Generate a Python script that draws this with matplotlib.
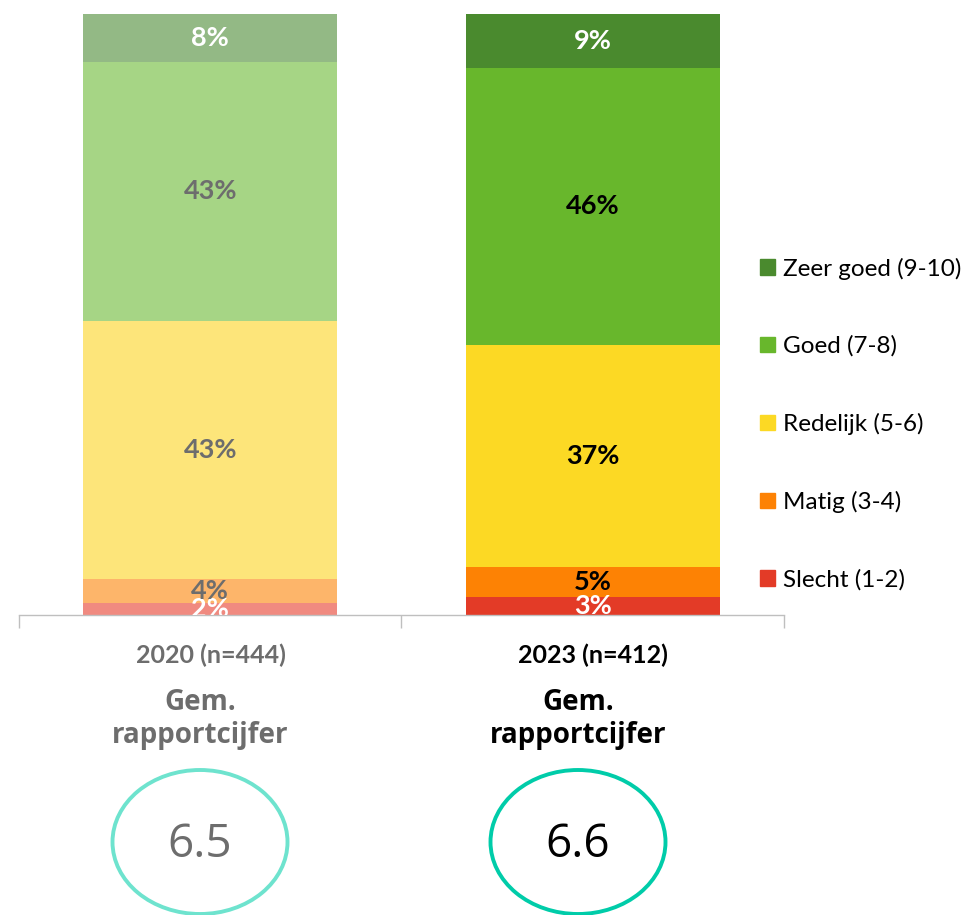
import matplotlib
matplotlib.use("Agg")
import matplotlib.pyplot as plt
from matplotlib.patches import Ellipse, Rectangle

# ---- data ----
years = ["2020 (n=444)", "2023 (n=412)"]
categories = ["Slecht (1-2)", "Matig (3-4)", "Redelijk (5-6)", "Goed (7-8)", "Zeer goed (9-10)"]
values_2020 = [2, 4, 43, 43, 8]
values_2023 = [3, 5, 37, 46, 9]
gem_cijfer = ["6.5", "6.6"]
gem_label = "Gem.\nrapportcijfer"

colors_2020 = ["#F08A80", "#FDB56A", "#FDE57A", "#A6D585", "#93B985"]
colors_2023 = ["#E33B27", "#FD8204", "#FCD924", "#68B72C", "#4A8A2E"]
text_2020 = ["white", "#6D6D6D", "#6D6D6D", "#6D6D6D", "white"]
text_2023 = ["white", "black", "black", "black", "white"]

W, H = 974, 915
fig = plt.figure(figsize=(W / 100, H / 100), dpi=100)
fig.patch.set_facecolor("white")
FONT = ["Lato", "DejaVu Sans"]
FONT2 = ["Open Sans", "DejaVu Sans"]

# bar axes in pixel placement
x0, x1, ytop, ybot = 19, 784, 14, 615
ax = fig.add_axes([x0 / W, (H - ybot) / H, (x1 - x0) / W, (ybot - ytop) / H])
ax.set_xlim(-0.5, 1.5)
ax.set_ylim(0, 100)
bw = 254 / 382.5

series = [(values_2020, colors_2020, text_2020), (values_2023, colors_2023, text_2023)]
for i, (vals, cols, tcols) in enumerate(series):
    bottom = 0
    for v, c, tc in zip(vals, cols, tcols):
        ax.bar(i, v, bottom=bottom, width=bw, color=c, edgecolor="none")
        ax.text(i, bottom + v / 2, f"{v}%", ha="center", va="center",
                fontsize=19.5, fontweight="bold", color=tc, family=FONT, clip_on=True)
        bottom += v

for s in ["top", "right", "left"]:
    ax.spines[s].set_visible(False)
ax.spines["bottom"].set_color("#BFBFBF")
ax.spines["bottom"].set_linewidth(1.0)
ax.set_yticks([])
ax.set_xticks([-0.5, 0.5, 1.5])
ax.set_xticklabels([])
ax.tick_params(axis="x", direction="out", length=9, color="#BFBFBF", width=1.0)

# legend
handles = [Rectangle((0, 0), 1, 1, color=c) for c in colors_2023[::-1]]
leg = fig.legend(handles, categories[::-1], loc="center left",
                 bbox_to_anchor=(760 / W, 1 - 424 / H), frameon=False,
                 prop={"family": FONT, "size": 17.5}, handlelength=0.6,
                 handleheight=0.6, handletextpad=0.35, labelspacing=2.3,
                 borderaxespad=0, borderpad=0)

# overlay in pixel coordinates
ov = fig.add_axes([0, 0, 1, 1])
ov.set_xlim(0, W)
ov.set_ylim(H, 0)
ov.axis("off")
ov.patch.set_alpha(0)

centers = [210.5, 593]
label_cols = ["#6D6D6D", "black"]
ell_cols = ["#6EE3CE", "#00CCA9"]
ell_cx = [200, 578]
for i in range(2):
    ov.text(centers[i], 655, years[i], ha="center", va="center", fontsize=18,
            fontweight="bold", color=label_cols[i], family=FONT)
    ov.text(ell_cx[i], 719, gem_label, ha="center", va="center", fontsize=20,
            fontweight="bold", color=label_cols[i], family=FONT2, linespacing=1.15)
    ov.add_patch(Ellipse((ell_cx[i], 842), 175, 144, fill=False,
                         edgecolor=ell_cols[i], linewidth=2.8))
    ov.text(ell_cx[i], 845, gem_cijfer[i], ha="center", va="center", fontsize=33,
            color=label_cols[i], family=FONT2)

fig.savefig("out.png", dpi=100, facecolor="white")
